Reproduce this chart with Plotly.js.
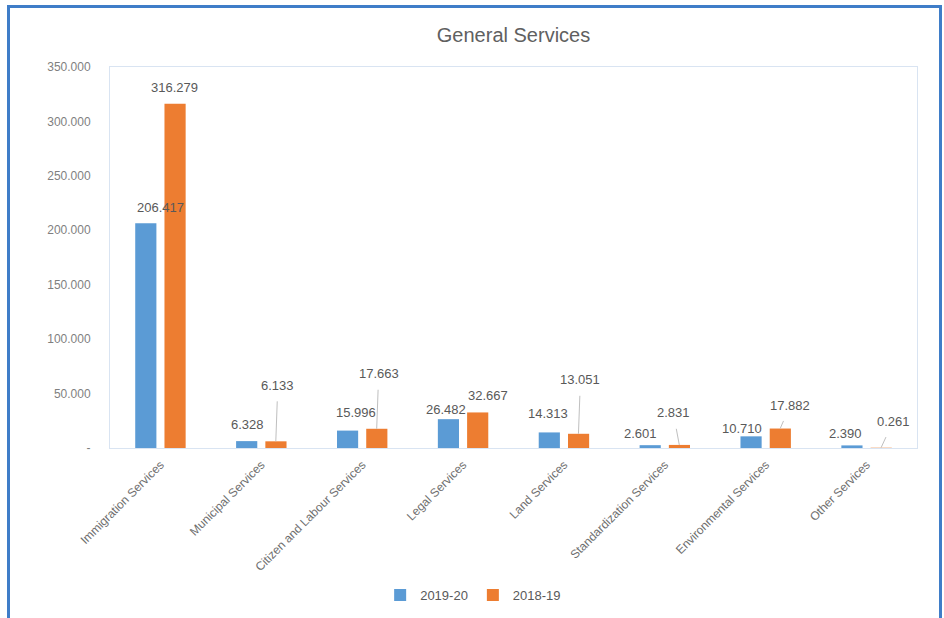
<!DOCTYPE html>
<html>
<head>
<meta charset="utf-8">
<script src="https://cdn.plot.ly/plotly-3.0.1.min.js"></script>
<style>
  html, body { margin: 0; padding: 0; background: #ffffff; }
  #chart { position: absolute; left: 0; top: 0; width: 944px; height: 618px; }
  #frame { position: absolute; left: 7px; top: 5px; width: 929px; height: 625px;
           border: 3px solid #3F7DC8; pointer-events: none; }
</style>
</head>
<body>
<div id="chart"></div>
<div id="frame"></div>
<script>
const categories = ["Immigration Services", "Municipal Services", "Citizen and Labour Services",
  "Legal Services", "Land Services", "Standardization Services", "Environmental Services", "Other Services"];
const series2019 = [206.417, 6.328, 15.996, 26.482, 14.313, 2.601, 10.710, 2.390];
const series2018 = [316.279, 6.133, 17.663, 32.667, 13.051, 2.831, 17.882, 0.261];
const seriesNames = ["2019-20", "2018-19"];
const tickValues = [0, 50, 100, 150, 200, 250, 300, 350];
const tickLabels = ["-", "50.000", "100.000", "150.000", "200.000", "250.000", "300.000", "350.000"];

// label placement (pixel offsets from bar top), leader line flags
const off2019 = [[15,-16,false],[1,-17,false],[8,-18,false],[-3,-10,false],[-1,-19,false],[-10,-12,false],[-9,-8,false],[-7,-12,false]];
const off2018 = [[0,-16,false],[2,-56,true],[2,-55,true],[10,-17,false],[2,-54,true],[-6,-32,true],[10,-23,true],[12,-26,true]];

const blue = "#5B9BD5", orange = "#ED7D31", grey = "#595959";
const fmt = v => v.toFixed(3);

const traces = [
  { type: "bar", name: seriesNames[0], x: categories, y: series2019, marker: { color: blue }, hoverinfo: "x+y" },
  { type: "bar", name: seriesNames[1], x: categories, y: series2018, marker: { color: orange }, hoverinfo: "x+y" }
];

const annotations = [];
function addLabels(vals, offs, shift) {
  vals.forEach((v, i) => {
    const o = offs[i];
    annotations.push({
      x: categories[i], y: v, xref: "x", yref: "y", xshift: shift,
      text: fmt(v), showarrow: true, arrowhead: 0, arrowwidth: 1,
      arrowcolor: o[2] ? "#BFBFBF" : "rgba(0,0,0,0)",
      ax: o[0], ay: o[1], standoff: 0, startstandoff: 7,
      font: { family: "Liberation Sans, Arial, sans-serif", size: 13, color: grey }
    });
  });
}
addLabels(series2019, off2019, -14.5);
addLabels(series2018, off2018, 14.5);

const layout = {
  width: 944, height: 618,
  margin: { l: 110, r: 27, t: 67, b: 170 },
  paper_bgcolor: "#ffffff", plot_bgcolor: "#ffffff",
  title: { text: "General Services", x: 0.5, xref: "paper", y: 0.955, yref: "container",
           font: { family: "Liberation Sans, Arial, sans-serif", size: 20, color: "#606060" } },
  font: { family: "Liberation Sans, Arial, sans-serif", color: grey },
  barmode: "group", bargap: 0.42, bargroupgap: 0.276,
  showlegend: true,
  legend: { orientation: "h", x: 0.45, xanchor: "center", y: 0.037, yref: "container", yanchor: "middle",
            font: { size: 13, color: grey }, itemwidth: 30, traceorder: "normal" },
  xaxis: { type: "category", tickangle: -45, tickfont: { size: 12, color: "#6E6E6E" },
           showline: true, linecolor: "#D9E4F2", linewidth: 1, mirror: true,
           showgrid: false, ticks: "outside", ticklen: 4, tickcolor: "rgba(0,0,0,0)", automargin: false },
  yaxis: { range: [0, 350], tickvals: tickValues, ticktext: tickLabels,
           tickfont: { size: 12, color: "#7F7F7F" }, showgrid: false, zeroline: false,
           showline: true, linecolor: "#D9E4F2", linewidth: 1, mirror: true,
           ticks: "outside", ticklen: 16, tickcolor: "rgba(0,0,0,0)", automargin: false },
  annotations: annotations
};

Plotly.newPlot("chart", traces, layout, { displayModeBar: false, staticPlot: true });
</script>
</body>
</html>
